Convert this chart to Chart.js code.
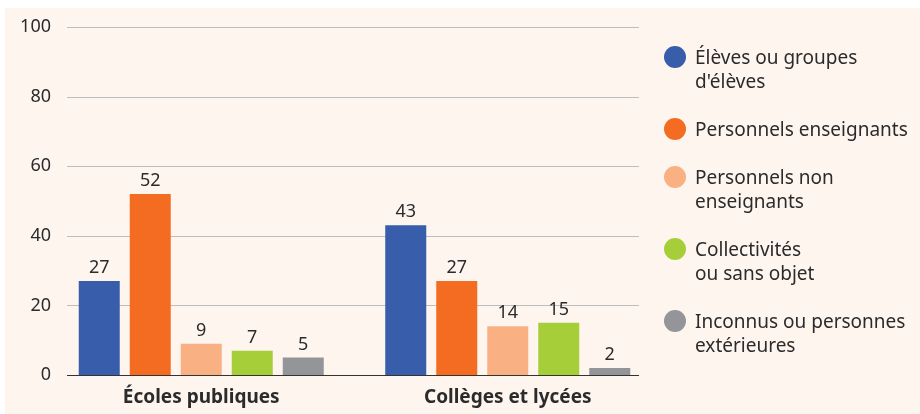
<!DOCTYPE html>
<html lang="fr">
<head>
<meta charset="utf-8">
<script src="https://cdn.jsdelivr.net/npm/chart.js@4.4.1/dist/chart.umd.min.js"></script>
<style>
  html, body { margin: 0; padding: 0; background: #fff; }
  #wrap { position: absolute; left: 5px; top: 8px; width: 915px; height: 406px; background: #fef5ef; }
  #legend { position: absolute; left: 659px; top: 37px; font-family: 'Noto Sans', sans-serif; font-size: 19px; color: #2b2b2b; line-height: 24px; }
  .item { position: relative; padding-left: 31px; margin-bottom: 24px; white-space: pre-line; }
  .dot { position: absolute; left: 0; top: 1px; width: 22px; height: 22px; border-radius: 50%; }
</style>
</head>
<body>
<div id="wrap">
  <canvas id="chart"></canvas>
  <div id="legend"></div>
</div>
<script>
const CATEGORIES = ['Écoles publiques', 'Collèges et lycées']
const SERIES = [
  'Élèves ou groupes\nd\'élèves',
  'Personnels enseignants',
  'Personnels non\nenseignants',
  'Collectivités\nou sans objet',
  'Inconnus ou personnes\nextérieures',
]
const ELEVES = [27, 43]
const ENSEIGNANTS = [52, 27]
const NON_ENSEIGNANTS = [9, 14]
const COLLECTIVITES = [7, 15]
const INCONNUS = [5, 2]
const Y_TICKS = [0, 20, 40, 60, 80, 100]
const COLORS = ['#375dab', '#f36c22', '#f9b083', '#a6ce39', '#939598']

const VALUES = [ELEVES, ENSEIGNANTS, NON_ENSEIGNANTS, COLLECTIVITES, INCONNUS]
const TEXT = '#2b2b2b'

// legend in html, the names wrap on two lines
const legend = document.getElementById('legend')
SERIES.forEach((name, i) => {
  const item = document.createElement('div')
  item.className = 'item'
  const dot = document.createElement('span')
  dot.className = 'dot'
  dot.style.background = COLORS[i]
  item.appendChild(dot)
  item.appendChild(document.createTextNode(name))
  legend.appendChild(item)
})

// horizontal lines are shorter than the category band, tick labels sit close to them
const gridLines = {
  id: 'gridLines',
  beforeDatasetsDraw(chart) {
    drawLines(chart, (v) => v !== 0, '#bdbdbd')
    const {ctx, chartArea, scales: {y}} = chart
    ctx.save()
    ctx.font = '18px "Noto Sans"'
    ctx.fillStyle = TEXT
    ctx.textAlign = 'right'
    ctx.textBaseline = 'middle'
    Y_TICKS.forEach((v) => {
      ctx.fillText(v, chartArea.left + 3, y.getPixelForValue(v))
    })
    ctx.restore()
  },
  afterDatasetsDraw(chart) {
    drawLines(chart, (v) => v === 0, '#333333')
  }
}

function drawLines(chart, keep, color) {
  const {ctx, chartArea, scales: {y}} = chart
  ctx.save()
  ctx.strokeStyle = color
  ctx.lineWidth = 1
  Y_TICKS.filter(keep).forEach((v) => {
    const py = Math.round(y.getPixelForValue(v)) + 0.5
    ctx.beginPath()
    ctx.moveTo(chartArea.left + 19, py)
    ctx.lineTo(chartArea.right - 22, py)
    ctx.stroke()
  })
  ctx.restore()
}

const valueLabels = {
  id: 'valueLabels',
  afterDatasetsDraw(chart) {
    const ctx = chart.ctx
    ctx.save()
    ctx.font = '18px "Noto Sans"'
    ctx.fillStyle = TEXT
    ctx.textAlign = 'center'
    ctx.textBaseline = 'alphabetic'
    chart.data.datasets.forEach((ds, i) => {
      chart.getDatasetMeta(i).data.forEach((bar, j) => {
        ctx.fillText(ds.data[j], bar.x, bar.y - 8)
      })
    })
    ctx.restore()
  }
}

Chart.defaults.font.family = "'Noto Sans', sans-serif"
Chart.defaults.color = TEXT

new Chart(document.getElementById('chart'), {
  type: 'bar',
  data: {
    labels: CATEGORIES,
    datasets: VALUES.map((vals, i) => ({
      label: SERIES[i],
      data: vals,
      backgroundColor: COLORS[i],
      categoryPercentage: 0.832,
      barPercentage: 0.804,
    })),
  },
  options: {
    responsive: true,
    maintainAspectRatio: false,
    animation: false,
    layout: { padding: { top: 19, right: 259, left: 0, bottom: 0 } },
    plugins: {
      legend: { display: false },
      tooltip: { enabled: false },
    },
    scales: {
      x: {
        grid: { display: false, drawTicks: false },
        border: { display: false },
        ticks: { font: { size: 19, weight: 'bold' }, padding: 11, color: TEXT },
        afterFit: (s) => { s.height = 39 },
      },
      y: {
        min: 0,
        max: 100,
        grid: { display: false, drawTicks: false },
        border: { display: false },
        ticks: { display: false, stepSize: 20 },
        afterFit: (s) => { s.width = 43 },
      },
    },
  },
  plugins: [gridLines, valueLabels],
})
</script>
</body>
</html>
